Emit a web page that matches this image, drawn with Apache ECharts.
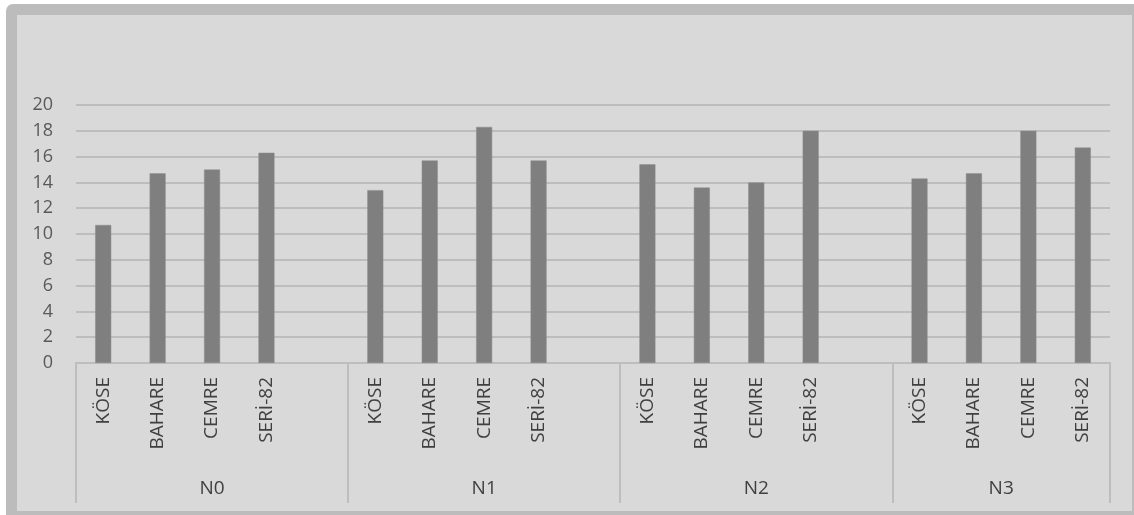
<!DOCTYPE html>
<html lang="tr">
<head>
<meta charset="UTF-8">
<title>Chart</title>
<script src="https://cdn.jsdelivr.net/npm/echarts@6/dist/echarts.min.js"></script>
<style>
  html, body { margin: 0; padding: 0; background: #fff; }
  #frame { position: absolute; left: 6px; top: 4px; width: 1128px; height: 511px;
           background: #bcbcbc; border-radius: 7px 0 0 0; }
  #inner { position: absolute; left: 11px; top: 11px; width: 1115px; height: 496px; background: #d9d9d9; }
  #main { position: absolute; left: 0; top: 0; width: 1134px; height: 515px; }
</style>
</head>
<body>
<div id="frame"><div id="inner"></div></div>
<div id="main"></div>
<script>
var groups = ['N0', 'N1', 'N2', 'N3'];
var varieties = ['KÖSE', 'BAHARE', 'CEMRE', 'SERİ-82'];
var n0 = [10.7, 14.7, 15.0, 16.3];
var n1 = [13.4, 15.7, 18.3, 15.7];
var n2 = [15.4, 13.6, 14.0, 18.0];
var n3 = [14.3, 14.7, 18.0, 16.7];
var yTicks = [0, 2, 4, 6, 8, 10, 12, 14, 16, 18, 20];

// excel sheet has an empty row after each group except the last
var groupValues = [n0, n1, n2, n3];
var categories = [];
var values = [];
var groupSizes = [];
groupValues.forEach(function (vals, g) {
    varieties.forEach(function (v, i) {
        categories.push(v);
        values.push(vals[i]);
    });
    var size = varieties.length;
    if (g < groupValues.length - 1) {
        categories.push('');
        values.push(null);
        size++;
    }
    groupSizes.push(size);
});

var bounds = [0];
var mids = [];
groupSizes.forEach(function (s, i) {
    mids.push(bounds[i] + s / 2);
    bounds.push(bounds[i] + s);
});

var chart = echarts.init(document.getElementById('main'));
var font = '"Open Sans", "Noto Sans", sans-serif';
chart.setOption({
    backgroundColor: 'transparent',
    animation: false,
    grid: { left: 76, right: 24, top: 105, bottom: 152 },
    xAxis: [{
        type: 'category',
        data: categories,
        axisLine: { lineStyle: { color: '#bdbdbd', width: 2 } },
        axisTick: { show: false },
        axisLabel: {
            interval: 0,
            rotate: 90,
            margin: 14,
            color: '#404040',
            fontSize: 19,
            fontFamily: font
        }
    }, {
        type: 'value',
        min: 0,
        max: bounds[bounds.length - 1],
        position: 'bottom',
        axisLine: { show: false },
        splitLine: { show: false },
        axisTick: {
            show: true,
            customValues: bounds,
            length: 140,
            lineStyle: { color: '#bdbdbd', width: 2 }
        },
        axisLabel: {
            customValues: mids,
            margin: 116,
            color: '#404040',
            fontSize: 19,
            fontFamily: font,
            formatter: function (v) { return groups[mids.indexOf(v)]; }
        }
    }],
    yAxis: {
        type: 'value',
        min: yTicks[0],
        max: yTicks[yTicks.length - 1],
        interval: 2,
        axisLine: { show: false },
        axisTick: { show: false },
        splitLine: { lineStyle: { color: '#bdbdbd', width: 2 } },
        axisLabel: {
            margin: 23,
            color: '#595959',
            fontSize: 18,
            fontFamily: font
        }
    },
    series: [{
        type: 'bar',
        xAxisIndex: 0,
        data: values,
        barWidth: 16,
        itemStyle: { color: '#7f7f7f', borderColor: '#8c8c8c', borderWidth: 0.5 }
    }]
});
</script>
</body>
</html>
